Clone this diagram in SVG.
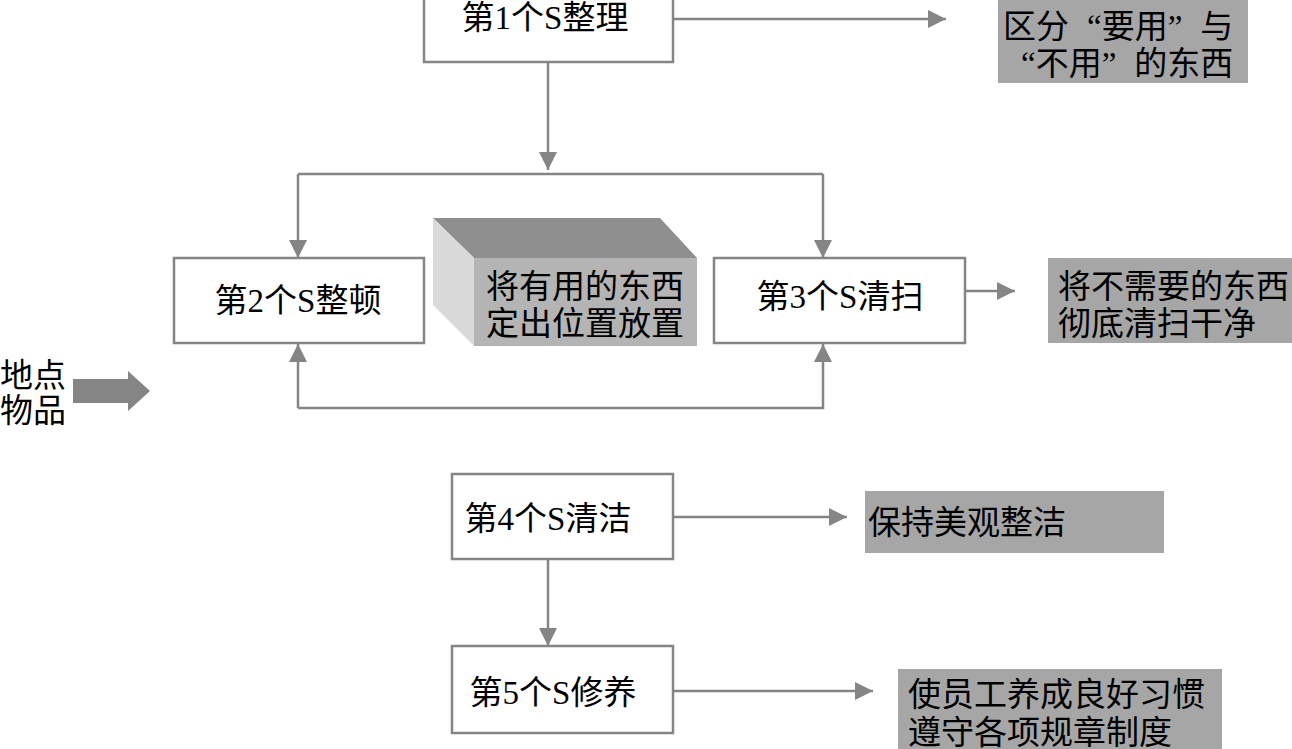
<svg xmlns="http://www.w3.org/2000/svg" width="1292" height="749" viewBox="0 0 1292 749">
<style>
.box{fill:#fff;stroke:#858585;stroke-width:2.5}
.note{fill:#a6a6a6}
.t{font-family:"Liberation Serif","Noto Sans CJK SC",serif;font-size:33px;fill:#000}
.c{text-anchor:middle}
.ln{fill:none;stroke:#858585;stroke-width:2.5}
</style>
<defs>
<marker id="a" viewBox="0 0 18 18" refX="18" refY="9" markerWidth="18" markerHeight="18" markerUnits="userSpaceOnUse" orient="auto">
<path d="M0,0 L18,9 L0,18 Z" fill="#858585"/>
</marker>
</defs>
<rect width="1292" height="749" fill="#fff"/>
<g id="connectors">
<path class="ln" d="M673,19 H946" marker-end="url(#a)"/>
<path class="ln" d="M548,62 V170" marker-end="url(#a)"/>
<path class="ln" d="M298,174 H823"/>
<path class="ln" d="M298,174 V258" marker-end="url(#a)"/>
<path class="ln" d="M823,174 V258" marker-end="url(#a)"/>
<path class="ln" d="M965,291 H1015" marker-end="url(#a)"/>
<path class="ln" d="M298,408 V344" marker-end="url(#a)"/>
<path class="ln" d="M298,408 H823 V344" marker-end="url(#a)"/>
<path class="ln" d="M673,517 H847" marker-end="url(#a)"/>
<path class="ln" d="M548,559 V646" marker-end="url(#a)"/>
<path class="ln" d="M673,691 H873" marker-end="url(#a)"/>
</g>
<g id="s1">
<rect class="box" x="424" y="-10" width="249" height="72"/>
<text class="t c" x="545" y="29">第1个S整理</text>
</g>
<g id="n1">
<rect class="note" x="998" y="0" width="250" height="83"/>
<text class="t" x="1003" y="38">区分<tspan dx="18">“要用”</tspan><tspan dx="18">与</tspan></text>
<text class="t" x="1003" y="75"><tspan dx="18">“不用”</tspan><tspan dx="18">的东西</tspan></text>
</g>
<g id="s2">
<rect class="box" x="174" y="258" width="250" height="85"/>
<text class="t c" x="298" y="312">第2个S整顿</text>
</g>
<g id="n2">
<path d="M433,218 H660 L697,258 H474 Z" fill="#8f8f8f"/>
<path d="M433,218 L474,258 V346 L433,305 Z" fill="#dadada"/>
<rect x="474" y="258" width="223" height="88" fill="#b4b4b4"/>
<text class="t c" x="585" y="298">将有用的东西</text>
<text class="t c" x="585" y="335">定出位置放置</text>
</g>
<g id="s3">
<rect class="box" x="714" y="258" width="251" height="85"/>
<text class="t c" x="840" y="308">第3个S清扫</text>
</g>
<g id="n3">
<rect class="note" x="1048" y="258" width="244" height="85"/>
<text class="t" x="1058" y="298">将不需要的东西</text>
<text class="t" x="1058" y="335">彻底清扫干净</text>
</g>
<g id="place">
<text class="t" x="0" y="387">地点</text>
<text class="t" x="0" y="422">物品</text>
<path d="M73,379 H128 V371 L150,391 L128,411 V403 H73 Z" fill="#858585"/>
</g>
<g id="s4">
<rect class="box" x="452" y="474" width="221" height="85"/>
<text class="t c" x="548" y="530">第4个S清洁</text>
</g>
<g id="n4">
<rect class="note" x="865" y="491" width="299" height="62"/>
<text class="t" x="868" y="534">保持美观整洁</text>
</g>
<g id="s5">
<rect class="box" x="452" y="646" width="221" height="87"/>
<text class="t c" x="553" y="704">第5个S修养</text>
</g>
<g id="n5">
<rect class="note" x="898" y="669" width="324" height="80"/>
<text class="t" x="908" y="706">使员工养成良好习惯</text>
<text class="t" x="908" y="744">遵守各项规章制度</text>
</g>
</svg>
